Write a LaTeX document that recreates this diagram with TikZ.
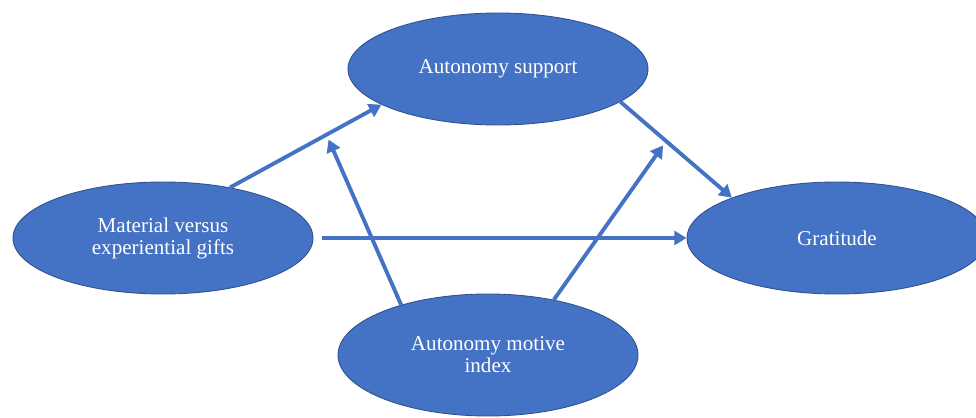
\documentclass[tikz,border=0pt]{standalone}
\usepackage{fontspec}
\setmainfont{Liberation Serif}
\usepackage{tikz}
\usetikzlibrary{arrows.meta, positioning, shapes.geometric}

\definecolor{officeblue}{HTML}{4472C4}
\definecolor{officeedge}{HTML}{2F528F}

\begin{document}
\begin{tikzpicture} [on grid,
    var/.style = {ellipse, fill=officeblue, draw=officeedge, line width=0.5pt,
        minimum width=6cm, minimum height=2.24cm, inner sep=0pt,
        text=white, align=center, font=\fontsize{12}{12.5}\selectfont},
    link/.style = {-{Triangle[length=7pt, width=8pt]}, line width=2.2pt, officeblue}]
    \useasboundingbox (0,0) rectangle (19.52,8.34);

    \node (mat) [var] at (3.26,3.58) {Material versus\\experiential gifts};
    \node (sup) [var, above right = 3.38cm and 6.7cm of mat] {Autonomy support};
    \node (grat) [var, right = 13.48cm of mat] {Gratitude};
    \node (mot) [var, minimum height=2.44cm, below right = 2.34cm and 6.5cm of mat] {Autonomy motive\\index};

    \path [link] (mat.37) edge coordinate [pos=0.637] (m1) (sup.197);
    \path [link] (sup.345) edge coordinate [pos=0.41] (m2) (grat.159);
    \path [link] (mat.east) edge [shorten <=5pt] (grat.west);
    \path [link] (mot.150) edge [shorten >=3pt] (m1);
    \path [link] (mot.40) edge [shorten >=3pt] (m2);

\end{tikzpicture}
\end{document}
